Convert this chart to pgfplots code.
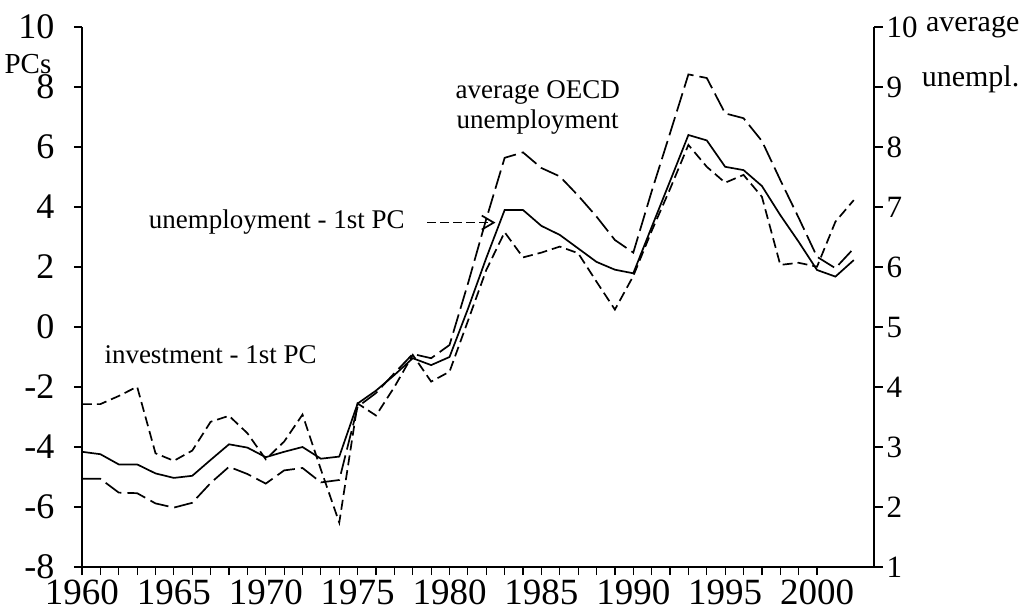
\documentclass[border=0pt]{standalone}
\usepackage{fontspec}
\setmainfont{Liberation Serif}
\usepackage{pgfplots}
\pgfplotsset{compat=1.18}
\usetikzlibrary{arrows.meta}

\pgfplotstableread{
year unemp invest
1960 -4.16 -2.57
1961 -4.24 -2.57
1962 -4.58 -2.30
1963 -4.58 -1.99
1964 -4.88 -4.21
1965 -5.03 -4.46
1966 -4.96 -4.12
1967 -4.43 -3.16
1968 -3.91 -2.96
1969 -4.02 -3.54
1970 -4.34 -4.41
1971 -4.16 -3.82
1972 -4.00 -2.92
1973 -4.39 -4.75
1974 -4.32 -6.52
1975 -2.55 -2.55
1976 -2.12 -2.95
1977 -1.60 -2.00
1978 -1.04 -0.93
1979 -1.27 -1.82
1980 -1.00 -1.49
1981 0.60 0.20
1982 2.30 1.90
1983 3.90 3.16
1984 3.90 2.32
1985 3.37 2.48
1986 3.07 2.68
1987 2.62 2.46
1988 2.17 1.51
1989 1.91 0.58
1990 1.79 1.70
1991 3.33 3.20
1992 4.86 4.60
1993 6.40 6.07
1994 6.22 5.34
1995 5.34 4.81
1996 5.23 5.07
1997 4.70 4.34
1998 3.73 2.07
1999 2.84 2.14
2000 1.90 2.01
2001 1.68 3.51
2002 2.23 4.23
}\pcdata

\pgfplotstableread{
year oecd
1960 2.47
1961 2.47
1962 2.24
1963 2.23
1964 2.06
1965 1.99
1966 2.07
1967 2.40
1968 2.67
1969 2.55
1970 2.39
1971 2.61
1972 2.65
1973 2.41
1974 2.45
1975 3.67
1976 3.90
1977 4.23
1978 4.55
1979 4.48
1980 4.70
1981 5.72
1982 6.80
1983 7.82
1984 7.91
1985 7.65
1986 7.51
1987 7.19
1988 6.84
1989 6.45
1990 6.24
1991 7.26
1992 8.23
1993 9.21
1994 9.15
1995 8.56
1996 8.48
1997 8.10
1998 7.45
1999 6.82
2000 6.17
2001 5.98
2002 6.31
}\oecddata

\begin{document}
\begin{tikzpicture}[x=1pt,y=1pt]
\useasboundingbox (-82,-44) rectangle (944,567);
\begin{axis}[
  at={(0,0)}, anchor=south west,
  scale only axis, width=792pt, height=540pt,
  xmin=1960, xmax=2003.1, ymin=-8, ymax=10,
  axis x line*=bottom, axis y line*=left,
  axis line style={line width=2.4pt},
  tick align=outside,
  xtick={1960,1965,1970,1975,1980,1985,1990,1995,2000},
  xticklabels={1960,1965,1970,1975,1980,1985,1990,1995,2000},
  minor x tick num=4,
  major tick length=8pt, minor tick length=8pt,
  tick style={line width=1.2pt, black},
  ytick={-8,-6,-4,-2,0,2,4,6,8,10},
  yticklabels={-8,-6,-4,-2,0,2,4,6,8,10},
  xticklabel style={font=\fontsize{37}{37}\selectfont, yshift=-1pt},
  yticklabel style={font=\fontsize{36}{36}\selectfont, xshift=-16pt},
  clip=false,
]
\addplot[black, line width=1.7pt] table[x=year, y=unemp] {\pcdata};
\addplot[black, line width=1.7pt, dash pattern=on 10pt off 5pt] table[x=year, y=invest] {\pcdata};

\node[font=\fontsize{27}{30}\selectfont, align=center] at (axis cs:1984.8,7.33) {average OECD\\unemployment};
\node[font=\fontsize{27}{30}\selectfont] at (axis cs:1970.6,3.5) {unemployment - 1st PC};
\node[font=\fontsize{27}{30}\selectfont] at (axis cs:1967.0,-0.93) {investment - 1st PC};
\node[font=\fontsize{29}{30}\selectfont] at (axis cs:1957.06,8.77) {PCs};
\node[font=\fontsize{30}{30}\selectfont, anchor=east] at (axis cs:2011.2,10.0) {average};
\node[font=\fontsize{30}{30}\selectfont, anchor=east] at (axis cs:2011.2,8.25) {unempl.};
\draw[black, line width=1.7pt, dash pattern=on 9pt off 4pt, -{Straight Barb[length=12pt,width=14pt,line width=1.7pt]}] (axis cs:1978.8,3.48) -- (axis cs:1982.5,3.48);
\end{axis}

\begin{axis}[
  at={(0,0)}, anchor=south west,
  scale only axis, width=792pt, height=540pt,
  xmin=1960, xmax=2003.1, ymin=1, ymax=10,
  axis x line=none, axis y line*=right,
  axis line style={line width=2.4pt},
  tick align=outside,
  major tick length=9pt,
  tick style={line width=1.2pt, black},
  ytick={1,2,3,4,5,6,7,8,9,10},
  yticklabels={1,2,3,4,5,6,7,8,9,10},
  yticklabel style={font=\fontsize{31}{31}\selectfont, xshift=0pt},
  clip=false,
]
\addplot[black, line width=1.7pt, dash pattern=on 19pt off 6pt] table[x=year, y=oecd] {\oecddata};
\end{axis}
\end{tikzpicture}
\end{document}
